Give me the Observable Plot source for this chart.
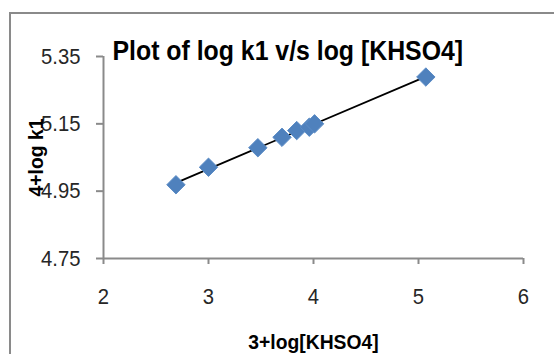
<!DOCTYPE html>
<html>
<head>
<meta charset="utf-8">
<script src="https://cdn.jsdelivr.net/npm/d3@7"></script>
<script src="https://cdn.jsdelivr.net/npm/@observablehq/plot@0.6"></script>
<style>
  body { margin: 0; background: #fff; }
  #chart { position: relative; width: 554px; height: 354px; overflow: hidden; background: #fff; }
  #frame { position: absolute; left: 9px; top: 12px; width: 700px; height: 500px;
           border-left: 2px solid #8a8a8a; border-top: 2px solid #8a8a8a; }
  #plot { position: absolute; left: 0; top: 0; }
</style>
</head>
<body>
<div id="chart">
  <div id="frame"></div>
  <div id="plot"></div>
</div>
<script>
// 3 + log[KHSO4] against 4 + log k1
const logKHSO4 = [2.69, 3.00, 3.47, 3.70, 3.84, 3.96, 4.01, 5.07];
const logK1    = [4.969, 5.021, 5.079, 5.110, 5.130, 5.140, 5.150, 5.289];
const xTicks = [2, 3, 4, 5, 6];
const yTicks = [4.75, 4.95, 5.15, 5.35];
const titleText = "Plot of log k1 v/s log [KHSO4]";
const xLabel = "3+log[KHSO4]";
const yLabel = "4+log k1";

const points = logKHSO4.map((x, i) => ({x, y: logK1[i]}));

const sans = `"Liberation Sans", Arial, sans-serif`;
const axisGray = "#8a8a8a";

const chart = Plot.plot({
  width: 554,
  height: 354,
  marginLeft: 103,
  marginRight: 31,
  marginTop: 56,
  marginBottom: 96,
  style: {fontFamily: sans, fontSize: "22px", color: "#222", background: "transparent", overflow: "visible"},
  x: {domain: [2, 6]},
  y: {domain: [4.75, 5.35]},
  marks: [
    Plot.ruleY([4.75], {stroke: axisGray, strokeWidth: 2}),
    Plot.ruleX([2], {stroke: axisGray, strokeWidth: 2}),
    Plot.axisX(xTicks, {tickSize: 6, tickPadding: 24, stroke: axisGray, strokeWidth: 2, label: null,
                        tickFormat: d => String(d), fill: "#262626", fontSize: 22}),
    Plot.axisY(yTicks, {tickSize: 7, tickPadding: 16, stroke: axisGray, strokeWidth: 2, label: null,
                        tickFormat: d => d.toFixed(2), fill: "#262626", fontSize: 22}),
    Plot.linearRegressionY(points, {x: "x", y: "y", ci: 0, stroke: "#000", strokeWidth: 1.8}),
    Plot.dot(points, {x: "x", y: "y", symbol: "diamond2", r: 8.3, fill: "#4f81bd", stroke: "#5b8cc6", strokeWidth: 1}),
    Plot.text([titleText], {frameAnchor: "top-left", textAnchor: "start", lineAnchor: "middle",
                            dx: 9, dy: -5.6, fontWeight: "bold", fontSize: 27, fill: "#000"}),
    Plot.text([xLabel], {frameAnchor: "bottom", textAnchor: "middle", dy: 84, lineAnchor: "middle",
                         fontWeight: "bold", fontSize: 21, fill: "#000"}),
    Plot.text([yLabel], {frameAnchor: "left", textAnchor: "middle", dx: -67, rotate: -90, lineAnchor: "middle",
                         fontWeight: "bold", fontSize: 21, fill: "#000"})
  ]
});

document.getElementById("plot").appendChild(chart);

// Narrow the face: squeeze each label along its baseline.
d3.select(chart).selectAll("text").each(function () {
  const w = this.getComputedTextLength();
  if (w > 0) {
    this.setAttribute("textLength", (w * 0.92).toFixed(2));
    this.setAttribute("lengthAdjust", "spacingAndGlyphs");
  }
});
</script>
</body>
</html>
